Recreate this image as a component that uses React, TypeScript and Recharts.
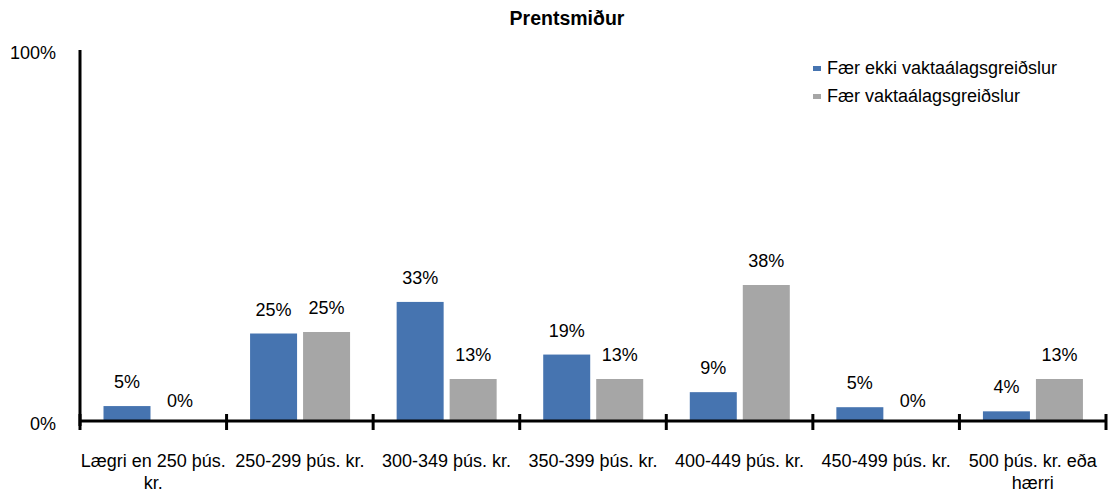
import React from "react";
import { BarChart, Bar, XAxis, YAxis, Legend, LabelList, ReferenceLine } from "recharts";

const categoryLabels: string[][] = [
  ["Lægri en 250 þús.", "kr."],
  ["250-299 þús. kr."],
  ["300-349 þús. kr."],
  ["350-399 þús. kr."],
  ["400-449 þús. kr."],
  ["450-499 þús. kr."],
  ["500 þús. kr. eða", "hærri"],
];
const categories = categoryLabels.map((l) => l.join(" "));
const seriesNames = ["Fær ekki vaktaálagsgreiðslur", "Fær vaktaálagsgreiðslur"];
const notShiftPay = [5.3, 24.6, 33, 19, 9, 5, 3.9];
const shiftPay = [0, 25, 12.5, 12.5, 37.5, 0, 12.5];
const yTicks = [0, 100];
const title = "Prentsmiður";

const BLUE = "#4674b0";
const GRAY = "#a6a6a6";
const FONT = "'Liberation Sans', Arial, sans-serif";

const data = categories.map((c, i) => ({ name: c, a: notShiftPay[i], b: shiftPay[i] }));

const W = 1114;
const H = 500;
const PLOT_LEFT = 80;
const PLOT_RIGHT = 1106;
const PLOT_TOP = 50;
const PLOT_BOTTOM = 426;
const AXIS_Y = 421; // where the horizontal axis line is drawn
const AXIS_LINE_VALUE = ((PLOT_BOTTOM - AXIS_Y) / (PLOT_BOTTOM - PLOT_TOP)) * 100;
const BAND = (PLOT_RIGHT - PLOT_LEFT) / categories.length;

const XTick = (props: any) => {
  const { x, y, payload, index } = props;
  const lines = categoryLabels[index] || [String(payload.value)];
  const left = x - BAND / 2;
  const marks = [left];
  if (index === categories.length - 1) marks.push(x + BAND / 2);
  return (
    <g>
      {marks.map((mx, k) => (
        <line key={k} x1={mx} x2={mx} y1={y - 12} y2={y + 4} stroke="#000" strokeWidth={3} />
      ))}
      {lines.map((ln, k) => (
        <text
          key={"t" + k}
          x={x}
          y={y + 41 + k * 22}
          textAnchor="middle"
          fontFamily={FONT}
          fontSize={18}
          fill="#000"
        >
          {ln}
        </text>
      ))}
    </g>
  );
};

const YTick = (props: any) => {
  const { x, y, payload } = props;
  const dy = payload.value === 0 ? 3.5 : 9;
  return (
    <text x={x - 24} y={y + dy} textAnchor="end" fontFamily={FONT} fontSize={18} fill="#000">
      {payload.value + "%"}
    </text>
  );
};

const BarShape = (p: any) => {
  const bottom = Math.min(p.y + p.height, AXIS_Y);
  const h = bottom - p.y;
  if (!(h > 0.5)) return <g />;
  return <rect x={p.x} y={p.y} width={p.width} height={h} fill={p.fill} />;
};

const LegendContent = () => (
  <div style={{ fontFamily: FONT, fontSize: 18, color: "#000" }}>
    {seriesNames.map((n, i) => (
      <div key={n} style={{ display: "flex", alignItems: "center", height: 28 }}>
        <span
          style={{
            display: "inline-block",
            width: 8,
            height: 5,
            background: i === 0 ? BLUE : GRAY,
            marginRight: 6,
          }}
        />
        <span>{n}</span>
      </div>
    ))}
  </div>
);

const labelFmt = (v: any) => Math.round(Number(v)) + "%";
const labelStyle = { fontFamily: FONT, fontSize: 18, fill: "#000" };

export default function App() {
  return (
    <div style={{ position: "absolute", left: 0, top: 0, width: W, height: H, background: "#fff" }}>
      <div
        style={{
          position: "absolute",
          left: 0,
          width: 1134,
          top: 7,
          textAlign: "center",
          fontFamily: FONT,
          fontWeight: "bold",
          fontSize: 19.5,
          color: "#000",
          zIndex: 2,
        }}
      >
        {title}
      </div>
      <BarChart
        width={W}
        height={H}
        data={data}
        margin={{ top: PLOT_TOP, right: W - PLOT_RIGHT, left: 0, bottom: 0 }}
        barCategoryGap={23.5}
        barGap={6}
      >
        <YAxis
          type="number"
          domain={[0, 100]}
          ticks={yTicks}
          width={PLOT_LEFT}
          axisLine={{ stroke: "#000", strokeWidth: 3 }}
          tickLine={false}
          tickSize={0}
          tickMargin={0}
          tick={<YTick />}
          interval={0}
        />
        <XAxis
          dataKey="name"
          height={H - PLOT_BOTTOM}
          axisLine={false}
          tickLine={false}
          tickSize={0}
          tickMargin={0}
          interval={0}
          tick={<XTick />}
        />
        <Legend
          verticalAlign="middle"
          align="center"
          layout="horizontal"
          content={<LegendContent />}
          wrapperStyle={{ position: "absolute", top: 54, left: 813, width: 300 }}
        />
        <Bar
          dataKey="a"
          name={seriesNames[0]}
          fill={BLUE}
          isAnimationActive={false}
          shape={<BarShape />}
          minPointSize={(v: any) => (Number(v) === 0 ? 1 : 0)}
        >
          <LabelList dataKey="a" position="top" offset={18} formatter={labelFmt} style={labelStyle} />
        </Bar>
        <Bar
          dataKey="b"
          name={seriesNames[1]}
          fill={GRAY}
          isAnimationActive={false}
          shape={<BarShape />}
          minPointSize={(v: any) => (Number(v) === 0 ? 1 : 0)}
        >
          <LabelList dataKey="b" position="top" offset={18} formatter={labelFmt} style={labelStyle} />
        </Bar>
        <ReferenceLine y={AXIS_LINE_VALUE} stroke="#000" strokeWidth={3} />
      </BarChart>
    </div>
  );
}
